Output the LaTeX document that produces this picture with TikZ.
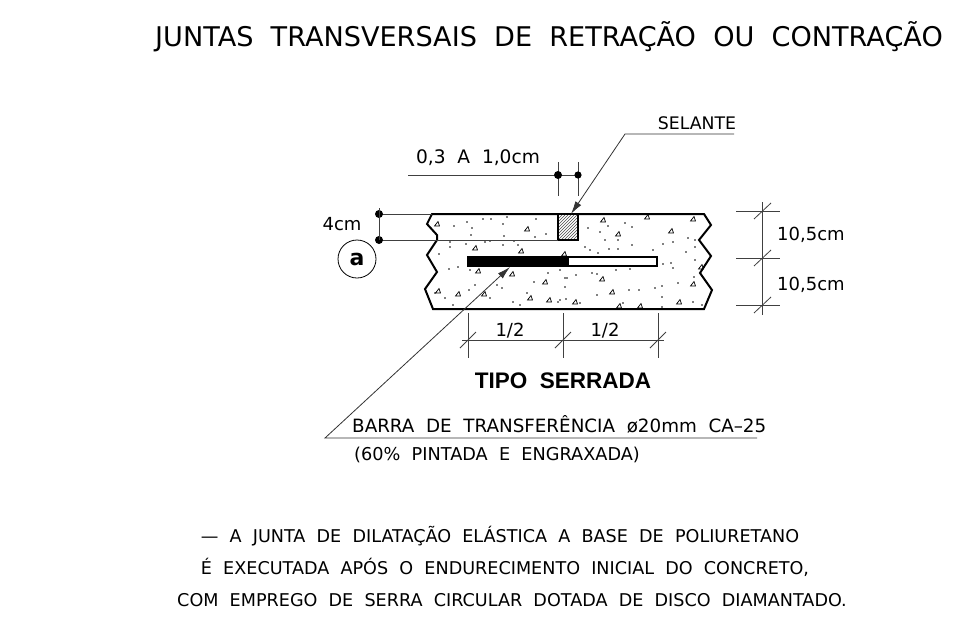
\documentclass[tikz,border=0pt]{standalone}
\usepackage{fontspec}
\setmainfont{DejaVu Sans}
\newfontfamily\tipofont{Liberation Sans}
\usetikzlibrary{arrows.meta,patterns}

\begin{document}
\begin{tikzpicture}[
    x=1pt, y=-1pt,
    slab/.style={line width=2pt, line join=miter},
    dim/.style={line width=0.8pt, black!75},
    lead/.style={line width=0.8pt, black!80},
    txt/.style={inner sep=0pt, anchor=base, font=\fontsize{18}{18}\selectfont},
    txtl/.style={txt, anchor=base west},
    note/.style={txt, font=\fontsize{17.6}{18}\selectfont},
    >={Latex[length=13pt,width=7pt]}
]
\useasboundingbox (0,0) rectangle (954,630);

% Title
\node[txt, font=\fontsize{27.1}{28}\selectfont] (title) at (549,46) {JUNTAS~~TRANSVERSAIS~~DE~~RETRAÇÃO~~OU~~CONTRAÇÃO};

% Slab
\draw[slab] (432,214) -- (704,214) -- (711,225) -- (699,240) -- (711,256) -- (700,273) -- (712,290) -- (704,309)
  -- (433,309) -- (425,289) -- (437,272) -- (427,255) -- (437,240) -- (437,235) -- (427,224) -- cycle;

% Aggregate
\foreach \x/\y in {454/226,467/222,472/228,483/219,491/219,507/217,503/224,536/219,504/236,471/235,535/237,546/234,
  450/242,450/247,466/244,485/242,490/241,503/245,514/241,518/245,439/254,449/269,458/267,470/270,
  588/228,600/232,608/226,625/223,632/227,605/240,618/240,632/245,609/249,618/249,585/247,590/250,598/253,
  653/250,663/244,673/242,688/238,695/240,695/247,686/252,695/260,663/264,671/263,673/268,548/273,560/270,
  567/278,576/275,592/273,597/274,616/270,630/269,629/290,639/290,655/288,662/286,678/283,694/277,662/297,
  597/295,560/300,566/299,580/303,623/303,662/307,693/302,702/305,435/293,445/298,469/290,475/285,453/305,
  490/298,497/285,502/288,513/302,520/305,534/282,565/278,565/287,558/302,527/293}
  \fill (\x,\y) circle (0.8);
\foreach \x/\y in {437/224,527/229,475/248,521/251,478/271,512/274,603/220,618/234,671/231,693/219,647/217,610/259,
  545/282,602/279,612/292,549/300,575/302,619/306,640/306,679/302,693/284,701/267,564/254,655/261,438/291,458/294,
  484/294,530/298}
  \draw[line width=0.7pt] (\x-2.5,\y+2) -- (\x+2.5,\y+2) -- (\x+1,\y-2.5) -- cycle;

% Sealant and bar
\fill[white] (558,214) rectangle (578,240);
\draw[line width=1.2pt, pattern=north east lines, pattern color=black!70] (558,214) rectangle (578,240);
\draw[dim] (379,240) -- (558,240);
\draw[dim] (379,214) -- (432,214);
\draw[slab, fill=white] (568,257) rectangle (657,266);
\fill (467,256) rectangle (568,267);

% Dimensions 4cm
\coordinate (d1) at (379,214);
\coordinate (d2) at (379,240);
\fill (d1) circle (4);
\fill (d2) circle (4);
\draw[dim] (379,208) -- (d2);
\node[txt] (cm4) at (342,230) {4cm};
\node[draw, circle, line width=0.8pt, minimum size=38pt, inner sep=0pt, font=\fontsize{22}{22}\bfseries\selectfont] (a) at (357,259) {a};

% Dimensions top
\coordinate (t0) at (408,175);
\coordinate (t1) at (558,175);
\coordinate (t2) at (578,175);
\draw[dim] (t0) -- (t2);
\draw[dim] (558,162) -- (558,196);
\draw[dim] (578,162) -- (578,196);
\fill (t1) circle (4);
\fill (t2) circle (3.6);
\node[txt, font=\fontsize{18.6}{18}\selectfont] (gap) at (478,163) {0,3~~A~~1,0cm};

% Sealant leader
\coordinate (s0) at (734,134);
\coordinate (s1) at (625,134);
\coordinate (s2) at (571,214);
\draw[lead, ->] (s0) -- (s1) -- (s2);
\node[txt, font=\fontsize{17.3}{18}\selectfont] (sel) at (697,129) {SELANTE};

% Dimensions right
\draw[dim] (762,202) -- (762,315);
\foreach \y/\n in {211/r1,258/r2,305/r3} {
  \draw[dim] (736,\y) -- (780,\y);
  \draw[dim] (754,\y+8) -- (771,\y-8);
}
\node[txtl] (h1) at (777,240) {10,5cm};
\node[txtl] (h2) at (777,290) {10,5cm};

% Dimensions bottom
\draw[dim] (462,340) -- (664,340);
\foreach \x in {468,563,658} {
  \draw[dim] (\x,313) -- (\x,358);
  \draw[dim] (\x-8,348) -- (\x+8,332);
}
\node[txt] (b1) at (510,336) {1/2};
\node[txt] (b2) at (605,336) {1/2};
\node[txt, font=\tipofont\fontsize{22.5}{25}\bfseries\selectfont] (tipo) at (563,388) {TIPO~~SERRADA};

% Bar leader
\coordinate (l0) at (757,438);
\coordinate (l1) at (325,438);
\coordinate (l2) at (510,267);
\draw[lead, ->] (l0) -- (l1) -- (l2);
\node[txtl, font=\fontsize{18.3}{18}\selectfont] (barra) at (352,432) {BARRA~~DE~~TRANSFERÊNCIA~~ø20mm~~CA--25};
\node[txtl, font=\fontsize{17.7}{18}\selectfont] (pint) at (354,460) {(60\%~~PINTADA~~E~~ENGRAXADA)};

% Notes
\node[note] (n1) at (500,542) {---~~A~~JUNTA~~DE~~DILATAÇÃO~~ELÁSTICA~~A~~BASE~~DE~~POLIURETANO};
\node[note] (n2) at (505,574) {É~~EXECUTADA~~APÓS~~O~~ENDURECIMENTO~~INICIAL~~DO~~CONCRETO,};
\node[note] (n3) at (512,606) {COM~~EMPREGO~~DE~~SERRA~~CIRCULAR~~DOTADA~~DE~~DISCO~~DIAMANTADO.};

\end{tikzpicture}
\end{document}
